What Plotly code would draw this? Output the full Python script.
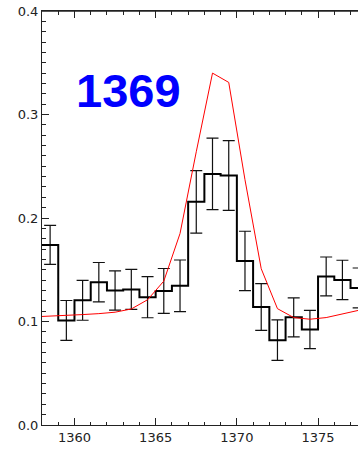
import plotly.graph_objects as go

# histogram bins (left edges) and values
bin_left = [1358, 1359, 1360, 1361, 1362, 1363, 1364, 1365, 1366, 1367,
            1368, 1369, 1370, 1371, 1372, 1373, 1374, 1375, 1376, 1377]
counts = [0.174, 0.101, 0.1205, 0.138, 0.130, 0.131, 0.1235, 0.1295, 0.1345, 0.2156,
          0.2426, 0.241, 0.1585, 0.114, 0.082, 0.104, 0.0922, 0.1435, 0.1402, 0.1324]
errors = [0.0189, 0.0193, 0.0193, 0.019, 0.019, 0.0193, 0.0199, 0.0217, 0.0249, 0.0302,
          0.0346, 0.0337, 0.0287, 0.0225, 0.0196, 0.0188, 0.0185, 0.0188, 0.019, 0.0193]

# model curve
model_x = [1357.5, 1358.5, 1359.5, 1360.5, 1361.5, 1362.5, 1363.5, 1364.5, 1365.5, 1366.5,
           1367.5, 1368.5, 1369.5, 1370.5, 1371.5, 1372.5, 1373.5, 1374.5, 1375.5, 1376.5, 1377.5]
model_y = [0.1045, 0.105, 0.106, 0.1067, 0.1076, 0.109, 0.1121, 0.121, 0.139, 0.185,
           0.264, 0.340, 0.331, 0.237, 0.151, 0.1124, 0.1038, 0.1022, 0.1038, 0.1076, 0.1108]

label_text = "1369"

bin_width = 1
centers = [b + bin_width / 2 for b in bin_left]
step_x = bin_left + [bin_left[-1] + bin_width]
step_y = counts + [counts[-1]]

fig = go.Figure()
fig.add_trace(go.Scatter(
    x=centers, y=counts, mode="markers",
    marker=dict(size=1, color="rgba(0,0,0,0)"),
    error_y=dict(type="data", array=errors, visible=True, color="#111111",
                 thickness=1.2, width=6),
    showlegend=False, hoverinfo="skip"))
fig.add_trace(go.Scatter(
    x=step_x, y=step_y, mode="lines", line=dict(shape="hv", color="black", width=2),
    showlegend=False))
fig.add_trace(go.Scatter(
    x=model_x, y=model_y, mode="lines", line=dict(color="#ff0000", width=1),
    showlegend=False))

fig.add_annotation(x=1363.35, y=0.323, text=label_text, showarrow=False,
                   xanchor="center", yanchor="middle",
                   font=dict(family="Liberation Sans", size=47, color="#0000ff", weight="bold"))

# top frame line
fig.add_shape(type="line", xref="paper", yref="paper", x0=0, x1=1, y0=1, y1=1,
              line=dict(color="#222222", width=1.5), layer="above")

axis_font = dict(family="DejaVu Sans", size=13, color="#222222")
fig.update_xaxes(range=[1358, 1377.46], tickmode="linear", tick0=1360, dtick=5,
                 ticks="inside", ticklen=7, tickcolor="#222222", tickwidth=1,
                 showline=True, linecolor="#222222", linewidth=1, mirror="allticks",
                 showgrid=False, zeroline=False, tickfont=axis_font,
                 minor=dict(dtick=1, ticks="inside", ticklen=3.5, tickcolor="#222222",
                            showgrid=False))
fig.update_yaxes(range=[0, 0.4], tickmode="linear", tick0=0, dtick=0.1,
                 tickformat=".1f",
                 ticks="inside", ticklen=7, tickcolor="#222222", tickwidth=1,
                 showline=True, linecolor="#222222", linewidth=1, mirror=False,
                 showgrid=False, zeroline=False, tickfont=axis_font,
                 minor=dict(dtick=0.01, ticks="inside", ticklen=3.5, tickcolor="#222222",
                            showgrid=False))
fig.update_layout(width=358, height=450, margin=dict(l=42, r=0, t=11, b=25),
                  paper_bgcolor="white", plot_bgcolor="white")
fig.write_html("out.html", config={"displayModeBar": False},
               post_script="document.body.style.margin='0px';document.body.style.overflow='hidden';")
